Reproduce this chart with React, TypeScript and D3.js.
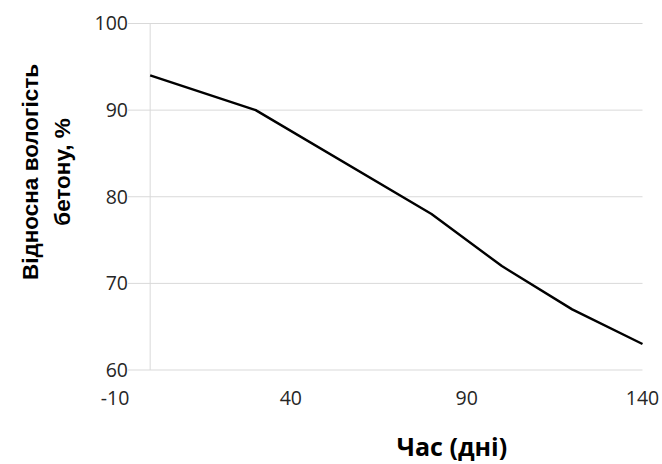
import React from "react";
import * as d3 from "d3";

const days = [0, 30, 80, 100, 120, 140];
const humidity = [94, 90, 78, 72, 67, 63];
const xTicks = [-10, 40, 90, 140];
const yTicks = [60, 70, 80, 90, 100];
const xTitle = "Час (дні)";
const yTitleLines = ["Відносна вологість", "бетону, %"];

const W = 662;
const H = 464;

export default function App() {
  const x = d3.scaleLinear().domain([-10, 140]).range([115, 642.5]);
  const y = d3.scaleLinear().domain([60, 100]).range([370, 23.5]);
  const line = d3
    .line<number>()
    .x((_, i) => x(days[i]))
    .y((d) => y(d));
  const gridLeft = 128;
  const font = "'Open Sans', 'Noto Sans', sans-serif";
  return (
    <svg
      width={W}
      height={H}
      style={{ position: "absolute", left: 0, top: 0, background: "#fff" }}
    >
      {yTicks.map((t) => (
        <line
          key={"g" + t}
          x1={gridLeft}
          x2={x(140)}
          y1={y(t)}
          y2={y(t)}
          stroke="#d9d9d9"
          strokeWidth={1}
        />
      ))}
      <line x1={x(0)} x2={x(0)} y1={y(100)} y2={y(60)} stroke="#d9d9d9" strokeWidth={1} />
      <path d={line(humidity) || ""} fill="none" stroke="#000" strokeWidth={2.4} strokeLinejoin="round" />
      {yTicks.map((t) => (
        <text
          key={"yl" + t}
          x={gridLeft}
          y={y(t)}
          dy="0.35em"
          textAnchor="end"
          fontFamily={font}
          fontSize={19.5}
          fill="#262626"
        >
          {t}
        </text>
      ))}
      {xTicks.map((t) => (
        <text
          key={"xl" + t}
          x={x(t)}
          y={398}
          dy="0.35em"
          textAnchor="middle"
          fontFamily={font}
          fontSize={19.5}
          fill="#262626"
        >
          {t}
        </text>
      ))}
      <text
        x={452}
        y={447}
        dy="0.35em"
        textAnchor="middle"
        fontFamily={font}
        fontSize={25}
        fontWeight="bold"
        fill="#000"
      >
        {xTitle}
      </text>
      <g transform="translate(0,172) rotate(-90)">
        {yTitleLines.map((s, i) => (
          <text
            key={s}
            x={0}
            y={30 + i * 32}
            dy="0.35em"
            textAnchor="middle"
            fontFamily="'Liberation Sans', Arial, sans-serif"
            fontSize={22.5}
            fontWeight="bold"
            fill="#000"
          >
            {s}
          </text>
        ))}
      </g>
    </svg>
  );
}
